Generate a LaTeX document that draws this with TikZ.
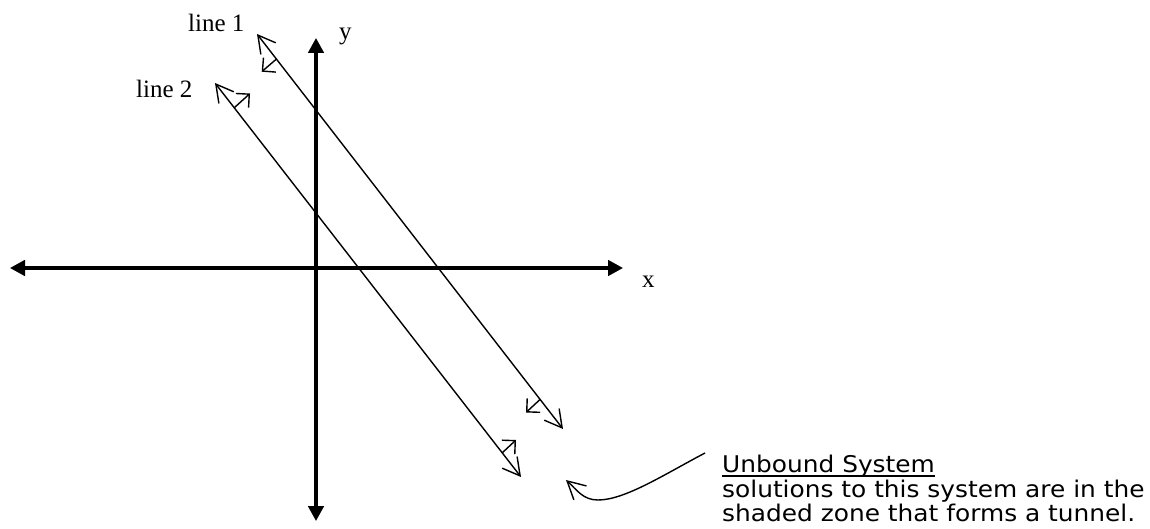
\documentclass[tikz,border=0pt]{standalone}
\usepackage{fontspec}
\setmainfont{Liberation Serif}
\newfontfamily\comicfont[FakeStretch=1.08]{DejaVu Sans}
\usetikzlibrary{arrows.meta}
\begin{document}
\begin{tikzpicture}[x=1pt,y=-1pt,
  axis/.style={line width=3.2pt,{Triangle[length=15pt,width=15.5pt]}-{Triangle[length=15pt,width=15.5pt]}},
  sysline/.style={line width=1.4pt,{Straight Barb[angle=58:19.5pt]}-{Straight Barb[angle=58:19.5pt]}},
  smallarr/.style={line width=1.4pt,-{Straight Barb[angle=90:13.5pt]}},
  curvearr/.style={line width=1.4pt,-{Straight Barb[angle=56:20pt]}},
  lab/.style={inner sep=0pt,anchor=base west,font=\fontsize{25}{30}\selectfont},
  note/.style={inner sep=0pt,anchor=base west,font=\comicfont\fontsize{23}{28}\selectfont}]
\useasboundingbox (0,0) rectangle (1150,529);
% axes
\coordinate (xl) at (10,268);
\coordinate (xr) at (623,268);
\coordinate (yt) at (316,38);
\coordinate (yb) at (316,521);
\draw[axis] (xl) -- (xr);
\draw[axis] (yb) -- (yt);
% lines
\coordinate (a1) at (257,34);
\coordinate (b1) at (563,429);
\coordinate (a2) at (215,83);
\coordinate (b2) at (521,477);
\draw[sysline] (a1) -- (b1);
\draw[sysline] (a2) -- (b2);
% small direction arrows
\coordinate (s1a) at (276.5,59);
\coordinate (t1a) at (261.7,71.7);
\coordinate (s1b) at (540,399.5);
\coordinate (t1b) at (526,412.5);
\coordinate (s2a) at (234.5,107.5);
\coordinate (t2a) at (250,93.5);
\coordinate (s2b) at (502,453);
\coordinate (t2b) at (516,440);
\draw[smallarr] (s1a) -- (t1a);
\draw[smallarr] (s1b) -- (t1b);
\draw[smallarr] (s2a) -- (t2a);
\draw[smallarr] (s2b) -- (t2b);
% labels
\node[lab] (l1) at (188,32) {line 1};
\node[lab] (l2) at (136,98) {line 2};
\node[lab] (ly) at (339,40) {y};
\node[lab] (lx) at (642,287) {x};
% note
\node[note] (n1) at (722,472) {Unbound System};
\draw[line width=1.8pt] ([yshift=-4pt]n1.base west) -- ([yshift=-4pt]n1.base east);
\node[note] (n2) at (722,497) {solutions to this system are in the};
\node[note] (n3) at (722,521.5) {shaded zone that forms a tunnel.};
% curved pointer
\coordinate (c0) at (705,453);
\coordinate (cm) at (598,500);
\coordinate (ct) at (566,480);
\draw[curvearr] (c0) .. controls (665,474) and (625,500) .. (cm)
  .. controls (583,500) and (577,490) .. (ct);
\end{tikzpicture}
\end{document}
